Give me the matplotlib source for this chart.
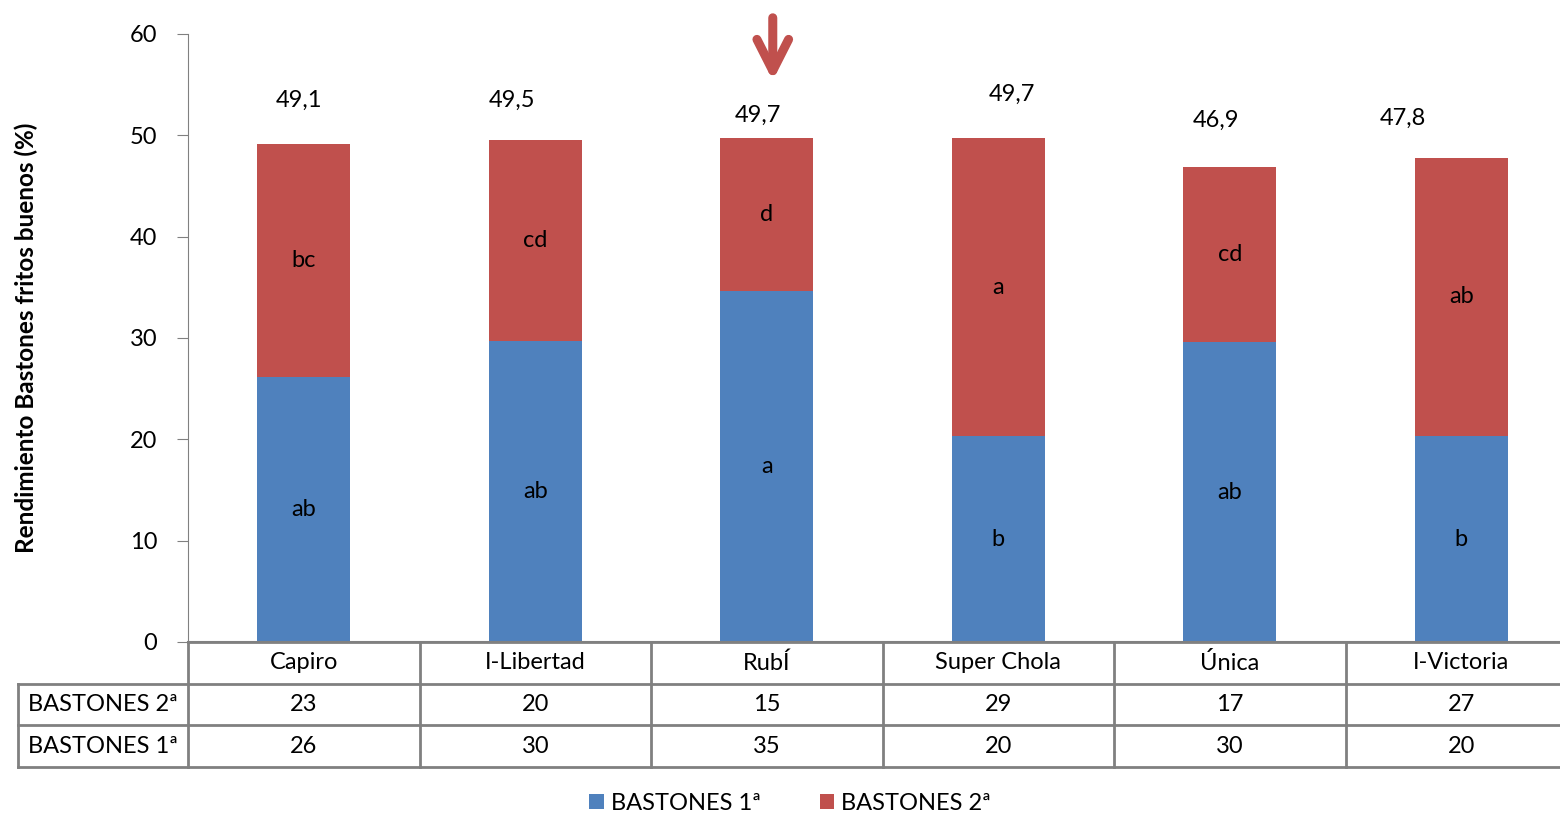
import matplotlib.pyplot as plt
import numpy as np

plt.rcParams['font.family'] = ['Lato', 'DejaVu Sans']

variedades = ['Capiro', 'I-Libertad', 'RubÍ', 'Super Chola', 'Única', 'I-Victoria']
bastones_1 = [26.2, 29.7, 34.6, 20.3, 29.6, 20.3]
bastones_2 = [22.9, 19.8, 15.1, 29.4, 17.3, 27.5]
totales = ['49,1', '49,5', '49,7', '49,7', '46,9', '47,8']
tabla_2 = [23, 20, 15, 29, 17, 27]
tabla_1 = [26, 30, 35, 20, 30, 20]
letras_1 = ['ab', 'ab', 'a', 'b', 'ab', 'b']
letras_2 = ['bc', 'cd', 'd', 'a', 'cd', 'ab']

# nudges for the total labels (as placed on the slide)
dx_tot = [-0.02, -0.10, -0.04, 0.06, -0.06, -0.25]
dy_tot = [4.4, 4.0, 2.3, 4.3, 4.6, 3.9]

azul = '#4F81BD'
rojo = '#C0504D'
gris = '#808080'
fs = 17

fig = plt.figure(figsize=(15.6, 8.14), dpi=100)
ax = fig.add_axes([188 / 1560, 172 / 814, 1389 / 1560, 608 / 814])
x = np.arange(len(variedades))

ax.bar(x, bastones_1, width=0.4, color=azul, label='BASTONES 1ª')
ax.bar(x, bastones_2, width=0.4, bottom=bastones_1, color=rojo, label='BASTONES 2ª')

for i in range(len(x)):
    ax.text(x[i], bastones_1[i] / 2, letras_1[i], ha='center', va='center', fontsize=fs)
    ax.text(x[i], bastones_1[i] + bastones_2[i] / 2, letras_2[i], ha='center', va='center', fontsize=fs)
    tot = bastones_1[i] + bastones_2[i]
    ax.text(x[i] + dx_tot[i], tot + dy_tot[i], totales[i], ha='center', va='center', fontsize=fs)

ax.set_xlim(-0.5, 5.5)
ax.set_ylim(0, 60)
ax.set_yticks(range(0, 61, 10))
ax.set_xticks([])
ax.tick_params(axis='y', labelsize=fs, length=8, color=gris, pad=14)
for s in ['top', 'right']:
    ax.spines[s].set_visible(False)
ax.spines['left'].set_color(gris)
ax.spines['bottom'].set_color(gris)
ax.spines['bottom'].set_linewidth(1.5)
ax.set_ylabel('Rendimiento Bastones fritos buenos (%)', fontsize=17.5, fontweight='bold')
ax.yaxis.set_label_coords(-0.108, 0.5)

# arrow over RubÍ
ax.annotate('', xy=(2.026, 55.4), xytext=(2.026, 61.6), annotation_clip=False,
            arrowprops=dict(arrowstyle='->, head_length=0.75, head_width=0.38', lw=6.5,
                            color=rojo, mutation_scale=30, shrinkA=0, shrinkB=0))

# data table under the chart
tx = fig.add_axes([188 / 1560, 47 / 814, 1389 / 1560, 125 / 814])
tx.set_xlim(-0.5, 5.5)
tx.set_ylim(0, 3)
tx.axis('off')
izq = -0.5 - 170 / 231.5
lk = dict(color=gris, lw=2, clip_on=False)
tx.plot([-0.5, 5.5], [3, 3], **lk)
for yy in [2, 1, 0]:
    tx.plot([izq, 5.5], [yy, yy], **lk)
tx.plot([izq, izq], [0, 2], **lk)
for k in range(6):
    tx.plot([k - 0.5, k - 0.5], [0, 3], **lk)
for i in range(len(x)):
    tx.text(x[i], 2.5, variedades[i], ha='center', va='center', fontsize=fs)
    tx.text(x[i], 1.5, str(tabla_2[i]), ha='center', va='center', fontsize=fs)
    tx.text(x[i], 0.5, str(tabla_1[i]), ha='center', va='center', fontsize=fs)
tx.text((izq - 0.5) / 2, 1.5, 'BASTONES 2ª', ha='center', va='center', fontsize=fs, clip_on=False)
tx.text((izq - 0.5) / 2, 0.5, 'BASTONES 1ª', ha='center', va='center', fontsize=fs, clip_on=False)

fig.legend(loc='center', bbox_to_anchor=(790 / 1560, 11 / 814), ncol=2, frameon=False,
           fontsize=fs, handlelength=0.6, handleheight=0.6, handletextpad=0.3, columnspacing=2.5)

fig.savefig('out.png', dpi=100)
